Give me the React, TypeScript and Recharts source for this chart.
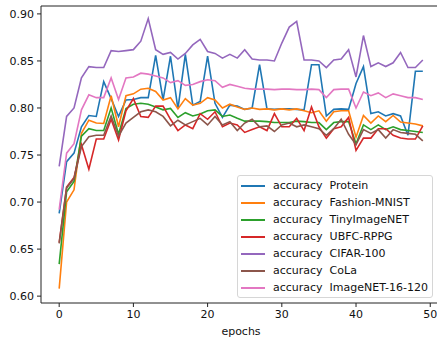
import { LineChart, Line, XAxis, YAxis, Legend, ReferenceLine } from 'recharts';

// accuracy per epoch for each dataset, epochs 0..49
const protein = [
  0.688, 0.743, 0.752, 0.780, 0.792, 0.791, 0.828, 0.810, 0.791, 0.8085,
  0.809, 0.811, 0.811, 0.856, 0.8085, 0.855, 0.799, 0.857, 0.803, 0.807,
  0.855, 0.805, 0.790, 0.803, 0.802, 0.7985, 0.800, 0.846, 0.799, 0.7985,
  0.799, 0.799, 0.7985, 0.798, 0.846, 0.846, 0.7915, 0.7985, 0.799, 0.7985,
  0.826, 0.844, 0.794, 0.796, 0.7915, 0.794, 0.7915, 0.771, 0.839, 0.839,
];
const fashionMnist = [
  0.608, 0.700, 0.713, 0.773, 0.787, 0.784, 0.7835, 0.813, 0.780, 0.813,
  0.815, 0.820, 0.821, 0.8175, 0.8085, 0.811, 0.799, 0.810, 0.803, 0.805,
  0.811, 0.8085, 0.800, 0.804, 0.801, 0.7985, 0.800, 0.7985, 0.799, 0.798,
  0.799, 0.798, 0.799, 0.797, 0.795, 0.797, 0.786, 0.796, 0.797, 0.797,
  0.769, 0.792, 0.784, 0.7915, 0.7855, 0.792, 0.785, 0.784, 0.783, 0.781,
];
const tinyImageNet = [
  0.634, 0.711, 0.722, 0.770, 0.778, 0.776, 0.776, 0.800, 0.772, 0.7995,
  0.804, 0.805, 0.804, 0.801, 0.798, 0.7995, 0.790, 0.795, 0.7915, 0.7935,
  0.797, 0.798, 0.791, 0.7925, 0.789, 0.786, 0.786, 0.786, 0.7855, 0.7845,
  0.7845, 0.7845, 0.786, 0.7855, 0.7845, 0.7845, 0.777, 0.7845, 0.7855, 0.7855,
  0.762, 0.782, 0.777, 0.782, 0.777, 0.780, 0.777, 0.776, 0.775, 0.774,
];
const ubfcRppg = [
  0.657, 0.716, 0.726, 0.761, 0.735, 0.767, 0.767, 0.788, 0.766, 0.797,
  0.810, 0.791, 0.790, 0.802, 0.802, 0.788, 0.776, 0.782, 0.778, 0.794,
  0.788, 0.796, 0.780, 0.784, 0.782, 0.774, 0.777, 0.780, 0.776, 0.794,
  0.780, 0.780, 0.789, 0.776, 0.801, 0.780, 0.768, 0.778, 0.780, 0.790,
  0.755, 0.768, 0.768, 0.778, 0.778, 0.771, 0.768, 0.767, 0.767, 0.781,
];
const cifar100 = [
  0.738, 0.791, 0.800, 0.832, 0.844, 0.843, 0.843, 0.861, 0.860, 0.861,
  0.862, 0.871, 0.895, 0.862, 0.857, 0.859, 0.852, 0.858, 0.867, 0.873,
  0.860, 0.858, 0.853, 0.857, 0.853, 0.862, 0.852, 0.851, 0.851, 0.850,
  0.869, 0.886, 0.892, 0.851, 0.851, 0.850, 0.843, 0.851, 0.852, 0.862,
  0.833, 0.877, 0.844, 0.848, 0.844, 0.848, 0.859, 0.843, 0.843, 0.851,
];
const cola = [
  0.656, 0.715, 0.725, 0.759, 0.7695, 0.771, 0.771, 0.7915, 0.770, 0.784,
  0.790, 0.796, 0.798, 0.796, 0.791, 0.781, 0.787, 0.782, 0.7855, 0.789,
  0.782, 0.791, 0.782, 0.7855, 0.776, 0.784, 0.788, 0.780, 0.781, 0.775,
  0.782, 0.784, 0.780, 0.782, 0.780, 0.778, 0.771, 0.778, 0.788, 0.772,
  0.761, 0.777, 0.773, 0.777, 0.768, 0.777, 0.774, 0.773, 0.772, 0.765,
];
const imageNet16 = [
  0.692, 0.752, 0.762, 0.798, 0.814, 0.811, 0.811, 0.832, 0.809, 0.832,
  0.833, 0.837, 0.836, 0.834, 0.832, 0.827, 0.829, 0.824, 0.825, 0.828,
  0.830, 0.829, 0.822, 0.825, 0.823, 0.821, 0.820, 0.820, 0.820, 0.8195,
  0.820, 0.820, 0.8195, 0.8195, 0.820, 0.8195, 0.811, 0.8195, 0.820, 0.820,
  0.800, 0.817, 0.813, 0.816, 0.811, 0.815, 0.813, 0.811, 0.811, 0.809,
];

const xTicks = [0, 10, 20, 30, 40, 50];
const yTicks = [0.6, 0.65, 0.7, 0.75, 0.8, 0.85, 0.9];
const xDomain: [number, number] = [-2.45, 51.45];
const yDomain: [number, number] = [0.5927, 0.9084];

const series = [
  { key: 'protein', name: 'Protein', color: '#1f77b4', values: protein },
  { key: 'fashion', name: 'Fashion-MNIST', color: '#ff7f0e', values: fashionMnist },
  { key: 'tiny', name: 'TinyImageNET', color: '#2ca02c', values: tinyImageNet },
  { key: 'ubfc', name: 'UBFC-RPPG', color: '#d62728', values: ubfcRppg },
  { key: 'cifar', name: 'CIFAR-100', color: '#9467bd', values: cifar100 },
  { key: 'cola', name: 'CoLa', color: '#8c564b', values: cola },
  { key: 'imagenet', name: 'ImageNET-16-120', color: '#e377c2', values: imageNet16 },
];

const data = protein.map((_, i) => {
  const row: Record<string, number> = { epoch: i };
  series.forEach((s) => {
    row[s.key] = s.values[i];
  });
  return row;
});

const FONT = '"DejaVu Sans", sans-serif';
const tickStyle = { fontSize: 11, fill: '#111', fontFamily: FONT };

function LegendBox() {
  return (
    <div
      style={{
        boxSizing: 'border-box',
        width: 196,
        height: 123,
        border: '1px solid #d6d6d6',
        borderRadius: 3,
        background: 'rgba(255,255,255,0.8)',
        padding: '1px 0 0 3px',
        fontFamily: FONT,
        fontSize: 11,
        color: '#111',
      }}
    >
      {series.map((s) => (
        <div key={s.key} style={{ display: 'flex', alignItems: 'center', height: 17 }}>
          <span style={{ width: 24, height: 2, background: s.color, marginRight: 8 }} />
          <span style={{ whiteSpace: 'pre' }}>{`accuracy  ${s.name}`}</span>
        </div>
      ))}
    </div>
  );
}

export default function App() {
  return (
    <div
      style={{
        position: 'absolute',
        left: 0,
        top: 0,
        width: 437,
        height: 338,
        overflow: 'hidden',
        background: '#fff',
      }}
    >
      <LineChart width={441} height={338} data={data} margin={{ top: 6, right: 0, left: 0, bottom: 0 }}>
        <XAxis
          dataKey="epoch"
          type="number"
          domain={xDomain}
          ticks={xTicks}
          allowDataOverflow
          height={35}
          stroke="#222"
          tickSize={4}
          tickMargin={3}
          tick={tickStyle}
          label={{ value: 'epochs', position: 'insideBottom', offset: 3, fontSize: 11, fill: '#111', fontFamily: FONT }}
        />
        <YAxis
          type="number"
          domain={yDomain}
          ticks={yTicks}
          allowDataOverflow
          width={41}
          stroke="#222"
          tickSize={4}
          tickMargin={3}
          tick={tickStyle}
          tickFormatter={(v: number) => v.toFixed(2)}
        />
        {/* top frame edge */}
        <ReferenceLine y={yDomain[1]} stroke="#222" strokeWidth={1} />
        <Legend
          layout="horizontal"
          verticalAlign="middle"
          align="center"
          wrapperStyle={{ position: 'absolute', left: 237, top: 175, width: 196, height: 123 }}
          content={() => <LegendBox />}
        />
        {series.map((s) => (
          <Line
            key={s.key}
            dataKey={s.key}
            name={s.name}
            type="linear"
            stroke={s.color}
            strokeWidth={1.6}
            dot={false}
            isAnimationActive={false}
          />
        ))}
      </LineChart>
    </div>
  );
}
